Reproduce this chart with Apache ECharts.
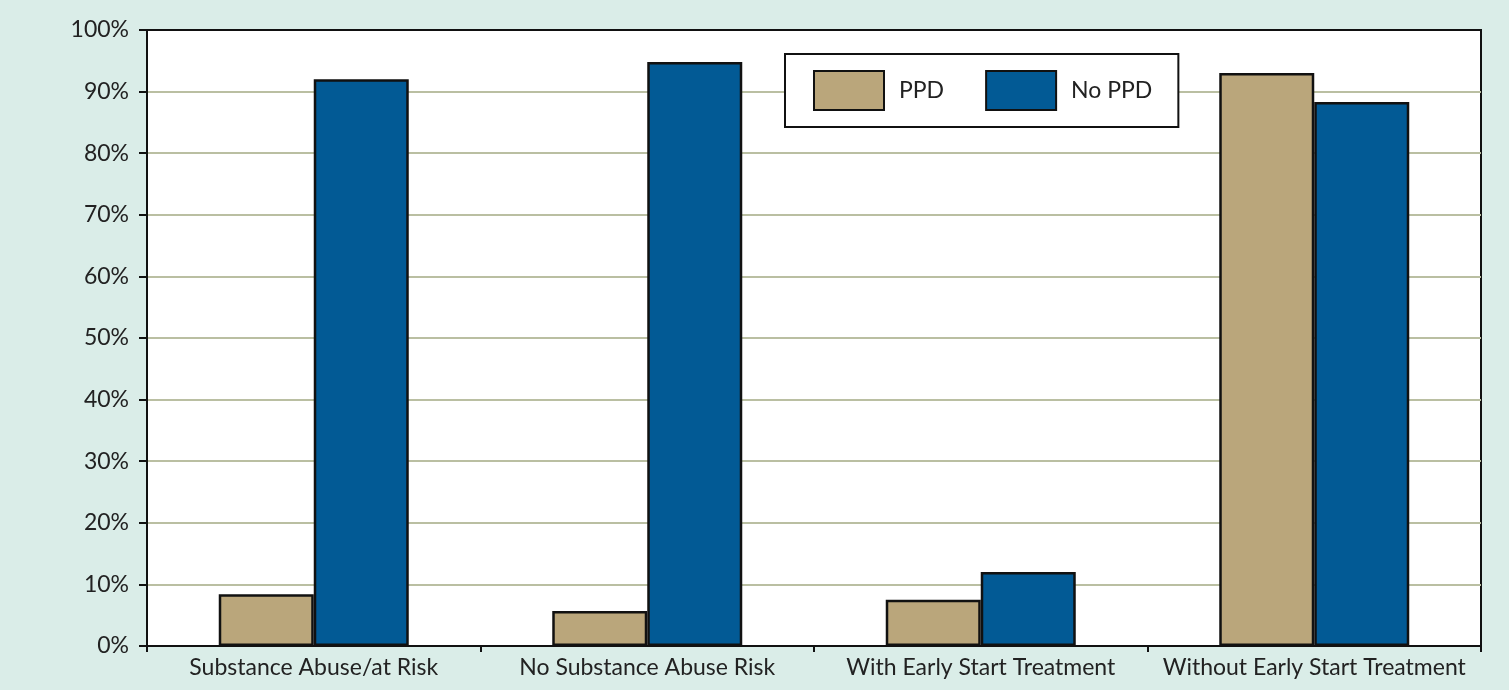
<!DOCTYPE html>
<html>
<head>
<meta charset="utf-8">
<script src="https://cdn.jsdelivr.net/npm/echarts@6/dist/echarts.min.js"></script>
<style>
    html, body { margin: 0; padding: 0; background: #daede8; }
    #chart { width: 1509px; height: 690px; }
</style>
</head>
<body>
<div id="chart"></div>
<script>
    const categories = ['Substance Abuse/at Risk', 'No Substance Abuse Risk', 'With Early Start Treatment', 'Without Early Start Treatment']
    const ppd = [8.4, 5.7, 7.5, 93.0]
    const noPpd = [92.0, 94.8, 12.0, 88.3]
    const yTicks = [0, 10, 20, 30, 40, 50, 60, 70, 80, 90, 100]

    const font = 'Lato, "Noto Sans", sans-serif'
    const myChart = echarts.init(document.getElementById('chart'))

    const option = {
        backgroundColor: '#daede8',
        animation: false,
        grid: {
            left: 147,
            right: 28,
            top: 30,
            bottom: 44,
            show: true,
            backgroundColor: '#ffffff',
            borderColor: '#111',
            borderWidth: 2
        },
        legend: {
            left: 785,
            top: 54,
            padding: [16, 26, 16, 28],
            backgroundColor: '#ffffff',
            borderColor: '#111',
            borderWidth: 2,
            borderRadius: 0,
            itemWidth: 70,
            itemHeight: 39,
            itemGap: 41,
            icon: 'rect',
            textStyle: { fontFamily: font, fontSize: 23, color: '#222', padding: [0, 0, 0, 10] },
            data: ['PPD', 'No PPD']
        },
        xAxis: {
            type: 'category',
            data: categories,
            axisLine: { lineStyle: { color: '#111', width: 2 } },
            axisTick: { show: true, interval: 0, length: 6, lineStyle: { color: '#111', width: 2 } },
            axisLabel: { interval: 0, fontFamily: font, fontSize: 23, color: '#222', margin: 10 }
        },
        yAxis: {
            type: 'value',
            min: yTicks[0],
            max: yTicks[yTicks.length - 1],
            interval: 10,
            axisLine: { show: true, lineStyle: { color: '#111', width: 2 } },
            axisTick: { show: true, length: 8, lineStyle: { color: '#111', width: 2 } },
            axisLabel: { fontFamily: font, fontSize: 23, color: '#222', margin: 18, formatter: '{value}%' },
            splitLine: { showMaxLine: false, lineStyle: { color: '#babfa2', width: 2 } }
        },
        series: [
            {
                name: 'PPD',
                type: 'bar',
                data: ppd,
                barWidth: 95,
                barGap: '0%',
                itemStyle: { color: '#baa67b', borderColor: '#111', borderWidth: 2.5 }
            },
            {
                name: 'No PPD',
                type: 'bar',
                data: noPpd,
                barWidth: 95,
                itemStyle: { color: '#025a95', borderColor: '#111', borderWidth: 2.5 }
            }
        ]
    }

    myChart.setOption(option)
</script>
</body>
</html>
